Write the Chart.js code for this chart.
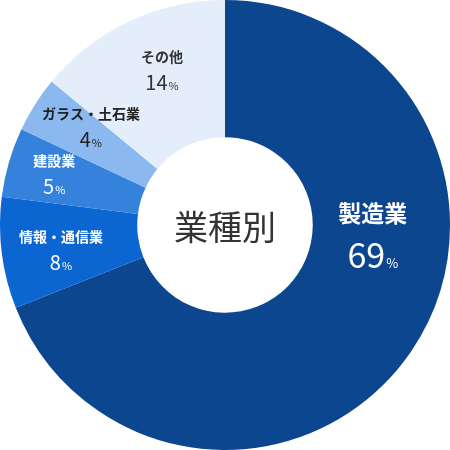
<!DOCTYPE html>
<html lang="ja">
<head>
<meta charset="utf-8">
<script src="https://cdn.jsdelivr.net/npm/chart.js@4"></script>
<style>
  html, body { margin: 0; padding: 0; background: #fff; }
  #wrap { width: 450px; height: 450px; }
</style>
</head>
<body>
<div id="wrap"><canvas id="chart"></canvas></div>
<script>
// ─── Data ───
const categories = ['製造業', '情報・通信業', '建設業', 'ガラス・土石業', 'その他'];
const shares = [69, 8, 5, 4, 14];
const sliceColors = ['#0b468f', '#0c66d1', '#3482dc', '#8bb9ef', '#e4eefb'];
const labelColors = ['#ffffff', '#ffffff', '#ffffff', '#222222', '#333333'];
const centerTitle = '業種別';

// label placement: fraction between inner and outer radius, angle nudge (deg)
const labelRing = [0.44, 0.57, 0.66, 0.57, 0.58];
const labelNudge = [-30.3, -1.5, 0.5, 3.7, 3.1];
const big = [true, false, false, false, false];

const FONT = '"Noto Sans CJK JP", "Noto Sans", sans-serif';

const sliceLabels = {
  id: 'sliceLabels',
  afterDatasetsDraw(chart) {
    const { ctx } = chart;
    const arcs = chart.getDatasetMeta(0).data;
    ctx.save();
    ctx.textAlign = 'center';
    ctx.textBaseline = 'alphabetic';
    arcs.forEach((arc, i) => {
      const { x, y, startAngle, endAngle, innerRadius, outerRadius } = arc.getProps(
        ['x', 'y', 'startAngle', 'endAngle', 'innerRadius', 'outerRadius'], true);
      const a = (startAngle + endAngle) / 2 + labelNudge[i] * Math.PI / 180;
      const r = innerRadius + (outerRadius - innerRadius) * labelRing[i];
      const cx = x + Math.cos(a) * r;
      const cy = y + Math.sin(a) * r;
      const nameSize = big[i] ? 23 : 14;
      const numSize = big[i] ? 34 : 20;
      const pctSize = big[i] ? 13 : 11;
      const gap = big[i] ? 42 : 26;
      ctx.fillStyle = labelColors[i];

      ctx.font = `bold ${nameSize}px ${FONT}`;
      ctx.fillText(categories[i], cx, cy - gap / 2 + nameSize * 0.36);

      // number + small %
      const num = String(shares[i]);
      ctx.font = `400 ${numSize}px ${FONT}`;
      const wNum = ctx.measureText(num).width;
      ctx.font = `400 ${pctSize}px ${FONT}`;
      const wPct = ctx.measureText('%').width;
      const left = cx - (wNum + wPct + 1) / 2;
      const base = cy + gap / 2 + numSize * 0.36;
      ctx.textAlign = 'left';
      ctx.font = `400 ${numSize}px ${FONT}`;
      ctx.fillText(num, left, base);
      ctx.font = `400 ${pctSize}px ${FONT}`;
      ctx.fillText('%', left + wNum + 1, base);
      ctx.textAlign = 'center';
    });

    // center title
    const a0 = arcs[0];
    ctx.fillStyle = '#333333';
    ctx.font = `400 34px ${FONT}`;
    ctx.textBaseline = 'middle';
    ctx.fillText(centerTitle, a0.x, a0.y + 2);
    ctx.restore();
  },
};

new Chart(document.getElementById('chart'), {
  type: 'doughnut',
  data: {
    labels: categories,
    datasets: [{
      data: shares,
      backgroundColor: sliceColors,
      borderWidth: 0,
    }],
  },
  options: {
    responsive: true,
    maintainAspectRatio: false,
    animation: false,
    cutout: '39%',
    layout: { padding: 0 },
    plugins: {
      legend: { display: false },
      tooltip: { enabled: false },
    },
  },
  plugins: [sliceLabels],
});
</script>
</body>
</html>
